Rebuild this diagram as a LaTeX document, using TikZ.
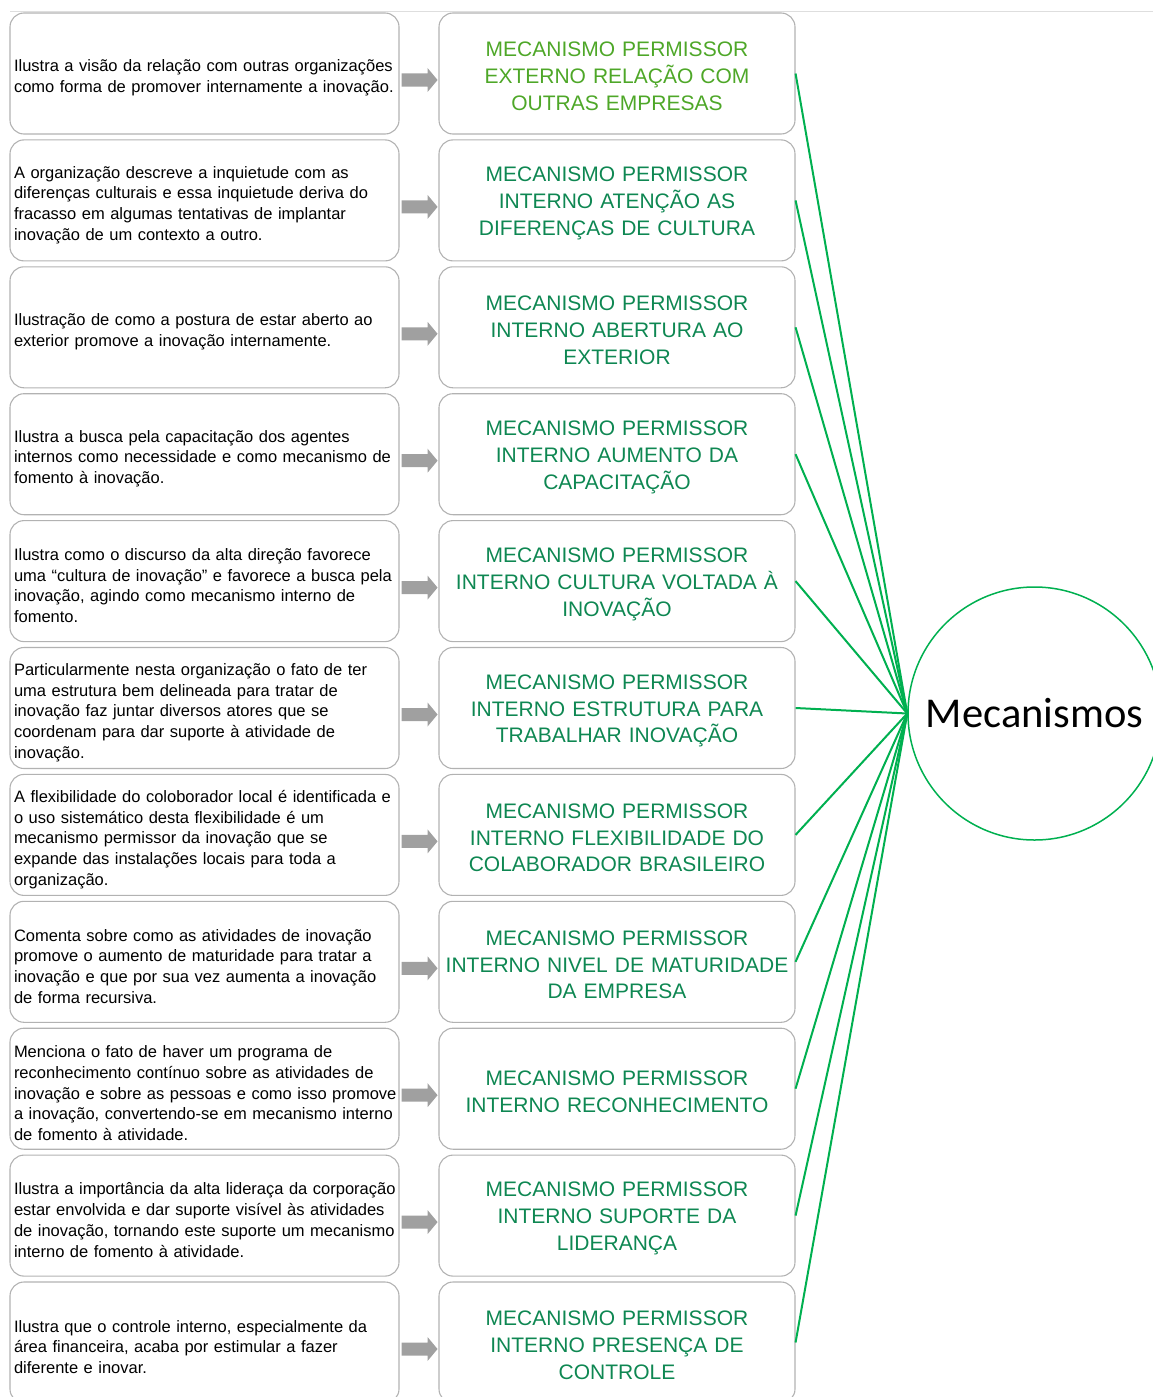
\documentclass[tikz,border=0pt]{standalone}
\usepackage{fontspec}
\setmainfont{Liberation Sans}
\newfontfamily\calfont{Carlito}
\definecolor{boxgray}{RGB}{178,178,178}
\definecolor{agray}{RGB}{160,160,160}
\definecolor{lgreen}{RGB}{78,167,40}
\definecolor{dgreen}{RGB}{14,135,82}
\definecolor{lnkgreen}{RGB}{0,176,80}
\definecolor{topgray}{RGB}{222,222,222}
\newcommand\blockarr[1]{\fill[agray] (#1.east) ++(2,0) -- ++(26,0) -- ++(0,-5.5) -- ++(10,12) -- ++(-10,12) -- ++(0,-5.5) -- ++(-26,0) -- cycle;}
\begin{document}
\begin{tikzpicture}[x=1pt,y=-1pt,
  lbox/.style={draw=boxgray, line width=1.1pt, rounded corners=14pt, minimum width=389pt, minimum height=121pt, inner sep=0pt},
  rbox/.style={draw=boxgray, line width=1.1pt, rounded corners=14pt, minimum width=356pt, minimum height=121pt, inner sep=0pt},
  ltext/.style={text width=383pt, inner sep=0pt, align=left,
    font=\fontsize{16.5}{20.7}\selectfont, text=black},
  rtext/.style={text width=350pt, inner sep=0pt, align=center,
    font=\fontsize{21}{26.8}\selectfont, text=dgreen},
  gline/.style={draw=lnkgreen, line width=2pt}
]
\useasboundingbox (0,0) rectangle (1153,1397);
\clip (0,0) rectangle (1153,1397);
\draw[topgray, line width=1pt] (10,12) -- (1153,12);

\foreach \i/\c/\lt/\rt in {
 1/73.5/{Ilustra a visão da relação com outras organizações\\como forma de promover internamente a inovação.}/{\textcolor{lgreen}{MECANISMO PERMISSOR\\EXTERNO RELAÇÃO COM\\OUTRAS EMPRESAS}},
 2/200.4/{A organização descreve a inquietude com as\\diferenças culturais e essa inquietude deriva do\\fracasso em algumas tentativas de implantar\\inovação de um contexto a outro.}/{MECANISMO PERMISSOR\\INTERNO ATENÇÃO AS\\DIFERENÇAS DE CULTURA},
 3/327.3/{Ilustração de como a postura de estar aberto ao\\exterior promove a inovação internamente.}/{MECANISMO PERMISSOR\\INTERNO ABERTURA AO\\EXTERIOR},
 4/454.2/{Ilustra a busca pela capacitação dos agentes\\internos como necessidade e como mecanismo de\\fomento à inovação.}/{MECANISMO PERMISSOR\\INTERNO AUMENTO DA\\CAPACITAÇÃO},
 5/581.1/{Ilustra como o discurso da alta direção favorece\\uma “cultura de inovação” e favorece a busca pela\\inovação, agindo como mecanismo interno de\\fomento.}/{MECANISMO PERMISSOR\\INTERNO CULTURA VOLTADA À\\INOVAÇÃO},
 6/708.0/{Particularmente nesta organização o fato de ter\\uma estrutura bem delineada para tratar de\\inovação faz juntar diversos atores que se\\coordenam para dar suporte à atividade de\\inovação.}/{MECANISMO PERMISSOR\\INTERNO ESTRUTURA PARA\\TRABALHAR INOVAÇÃO},
 7/834.9/{A flexibilidade do coloborador local é identificada e\\o uso sistemático desta flexibilidade é um\\mecanismo permissor da inovação que se\\expande das instalações locais para toda a\\organização.}/{MECANISMO PERMISSOR\\INTERNO FLEXIBILIDADE DO\\COLABORADOR BRASILEIRO},
 8/961.8/{Comenta sobre como as atividades de inovação\\promove o aumento de maturidade para tratar a\\inovação e que por sua vez aumenta a inovação\\de forma recursiva.}/{MECANISMO PERMISSOR\\INTERNO NIVEL DE MATURIDADE\\DA EMPRESA},
 9/1088.7/{Menciona o fato de haver um programa de\\reconhecimento contínuo sobre as atividades de\\inovação e sobre as pessoas e como isso promove\\a inovação, convertendo-se em mecanismo interno\\de fomento à atividade.}/{MECANISMO PERMISSOR\\INTERNO RECONHECIMENTO},
 10/1215.6/{Ilustra a importância da alta lideraça da corporação\\estar envolvida e dar suporte visível às atividades\\de inovação, tornando este suporte um mecanismo\\interno de fomento à atividade.}/{MECANISMO PERMISSOR\\INTERNO SUPORTE DA\\LIDERANÇA},
 11/1342.5/{Ilustra que o controle interno, especialmente da\\área financeira, acaba por estimular a fazer\\diferente e inovar.}/{MECANISMO PERMISSOR\\INTERNO PRESENÇA DE\\CONTROLE}}
{
  \node[lbox] (L\i) at (204.5,\c) {};
  \node[ltext] (LT\i) at ([xshift=1pt,yshift=-4.5pt]L\i.center) {\lt};
  \node[rbox] (R\i) at (617,\c) {};
  \node[rtext] (RT\i) at ([yshift=-3pt]R\i.center) {\rt};
}

\foreach \i in {1,...,11} { \blockarr{L\i} }

\node[circle, draw=lnkgreen, line width=1.5pt, minimum size=253pt, inner sep=0pt,
  font=\calfont\fontsize{42.5}{50}\selectfont] (M) at (1034.5,713.5) {Mecanismos};

\foreach \i in {1,...,11} { \draw[gline] (R\i.east) -- (M.west); }
\end{tikzpicture}
\end{document}
